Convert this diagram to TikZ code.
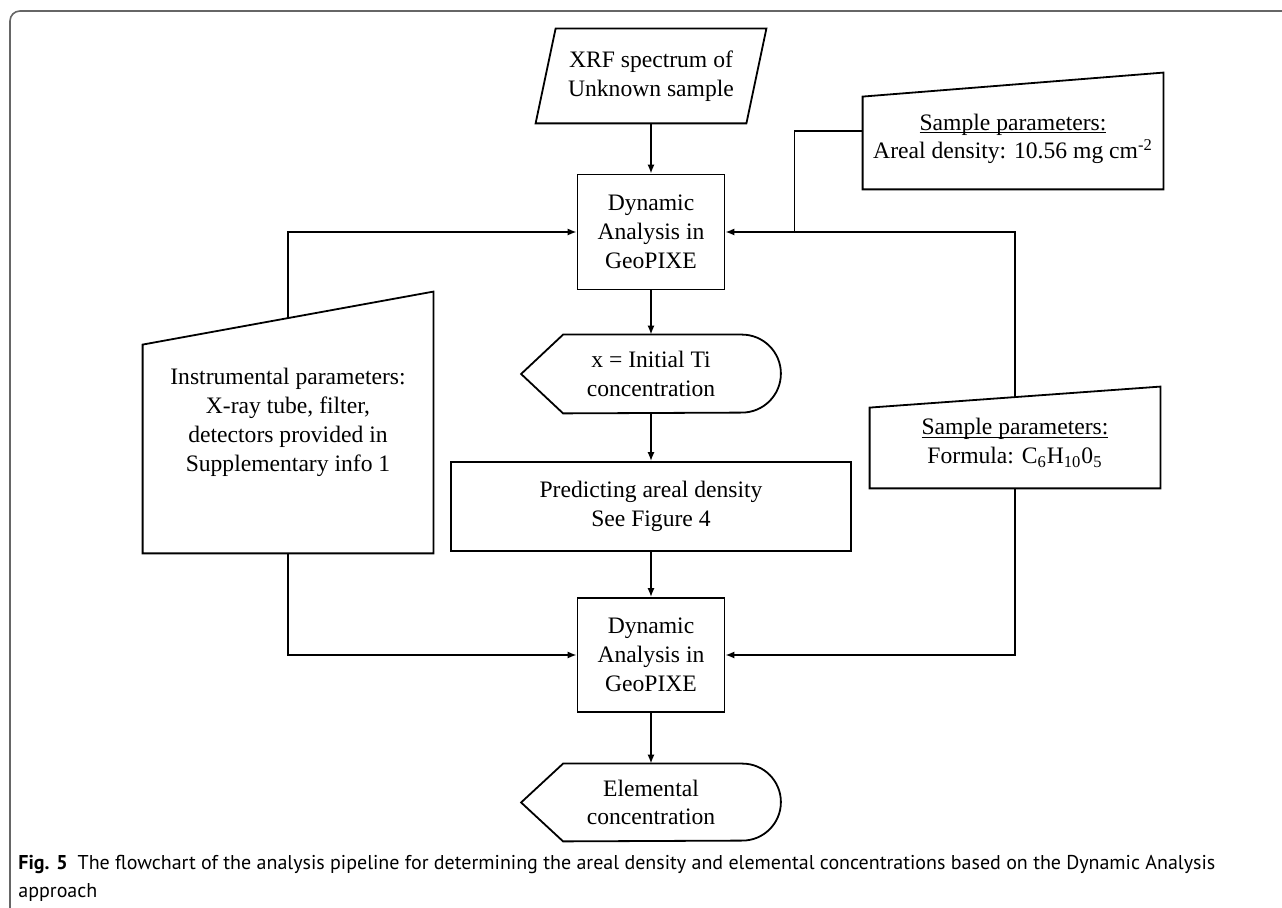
\documentclass[tikz,border=0pt]{standalone}
\usepackage{fontspec}
\setmainfont{Liberation Serif}
\newfontfamily\capfont{PT Sans}
\usepackage{tikz}
\usetikzlibrary{arrows.meta,calc}

\tikzset{
  box/.style={draw,line width=0.9pt,align=center,inner sep=2pt},
  ghost/.style={align=center,inner sep=0pt},
  outline/.style={line width=0.9pt},
  wire/.style={line width=0.9pt},
  link/.style={wire,-{Latex[length=4.5pt,width=3.6pt]}},
}
\newcommand{\headline}[1]{\underline{\smash{#1}}}

\begin{document}
\begin{tikzpicture}[x=0.5pt,y=-0.5pt,font=\fontsize{11.8}{14.4}\selectfont]
  \useasboundingbox (0,0) rectangle (1282,908);
  \draw[black!60,line width=0.8pt,rounded corners=5pt] (10,930) -- (10,11) -- (1300,11);

  % centre column
  \node[ghost,minimum width=115pt,minimum height=47pt] (xrf) at (651,76) {XRF spectrum of\\Unknown sample};
  \draw[outline] (xrf.south west) -- ($(xrf.north west)+(20,0)$) -- (xrf.north east) -- ($(xrf.south east)+(-20,0)$) -- cycle;
  \node[box,minimum width=73.5pt,minimum height=57.5pt] (dyn1) at (651,232) {Dynamic\\Analysis in\\GeoPIXE};
  \node[ghost,minimum width=129.5pt,minimum height=39pt] (ticonc) at (651,374) {x = Initial Ti\\concentration};
  \draw[outline] (ticonc.west) -- ($(ticonc.north west)+(42,0)$) -- ($(ticonc.north east)+(-39,0)$)
    arc[start angle=90,end angle=-90,radius=19.5pt] -- ($(ticonc.south west)+(42,0)$) -- cycle;
  \node[box,minimum width=200pt,minimum height=44.5pt] (pred) at (651,506.5) {Predicting areal density\\See Figure 4};
  \node[box,minimum width=73.5pt,minimum height=57pt] (dyn2) at (651,655) {Dynamic\\Analysis in\\GeoPIXE};
  \node[ghost,minimum width=129.5pt,minimum height=38.5pt] (elconc) at (651,802.5) {Elemental\\concentration};
  \draw[outline] (elconc.west) -- ($(elconc.north west)+(42,0)$) -- ($(elconc.north east)+(-38.5,0)$)
    arc[start angle=90,end angle=-90,radius=19.25pt] -- ($(elconc.south west)+(42,0)$) -- cycle;

  % side inputs
  \node[ghost,minimum width=145pt,minimum height=130.5pt] (instr) at (288,422.5)
    {Instrumental parameters:\\X-ray tube, filter,\\detectors provided in\\Supplementary info 1};
  \draw[outline] (instr.south west) -- ($(instr.north west)+(0,53)$) -- (instr.north east) -- (instr.south east) -- cycle;
  \node[ghost,minimum width=150pt,minimum height=58pt] (sp1) at (1013,131) {};
  \node[ghost] (sp1txt) at (1013,147) {\headline{Sample parameters:}\\Areal density: 10.56 mg cm\textsuperscript{-2}};
  \draw[outline] (sp1.south west) -- ($(sp1.north west)+(0,24)$) -- (sp1.north east) -- (sp1.south east) -- cycle;
  \node[ghost,minimum width=145pt,minimum height=50.5pt] (sp2) at (1015,437.5) {};
  \node[ghost] (sp2txt) at (1015,451) {\headline{Sample parameters:}\\Formula: C\textsubscript{6}H\textsubscript{10}0\textsubscript{5}};
  \draw[outline] (sp2.south west) -- ($(sp2.north west)+(0,21)$) -- (sp2.north east) -- (sp2.south east) -- cycle;

  \coordinate (instrtop) at ($(instr.north)+(0,26.5)$);
  \coordinate (sp2top) at ($(sp2.north)+(0,10.5)$);
  \coordinate (j1) at ($(dyn1.east)+(69,0)$);

  % connectors
  \draw[link] (xrf.south) -- (dyn1.north);
  \draw[link] (dyn1.south) -- (ticonc.north);
  \draw[link] (ticonc.south) -- (pred.north);
  \draw[link] (pred.south) -- (dyn2.north);
  \draw[link] (dyn2.south) -- (elconc.north);
  \draw[link] (instrtop) |- (dyn1.west);
  \draw[link] (instr.south) |- (dyn2.west);
  \draw[link] (sp2top) |- (dyn1.east);
  \draw[wire] (sp1.west) -| (j1);
  \draw[link] (sp2.south) |- (dyn2.east);

  \node[anchor=north west,align=left,inner sep=0pt,font=\capfont\fontsize{10}{14}\selectfont] (cap) at (18,855)
    {\textbf{Fig. 5}\enspace The flowchart of the analysis pipeline for determining the areal density and elemental concentrations based on the Dynamic Analysis\\approach};
\end{tikzpicture}
\end{document}
